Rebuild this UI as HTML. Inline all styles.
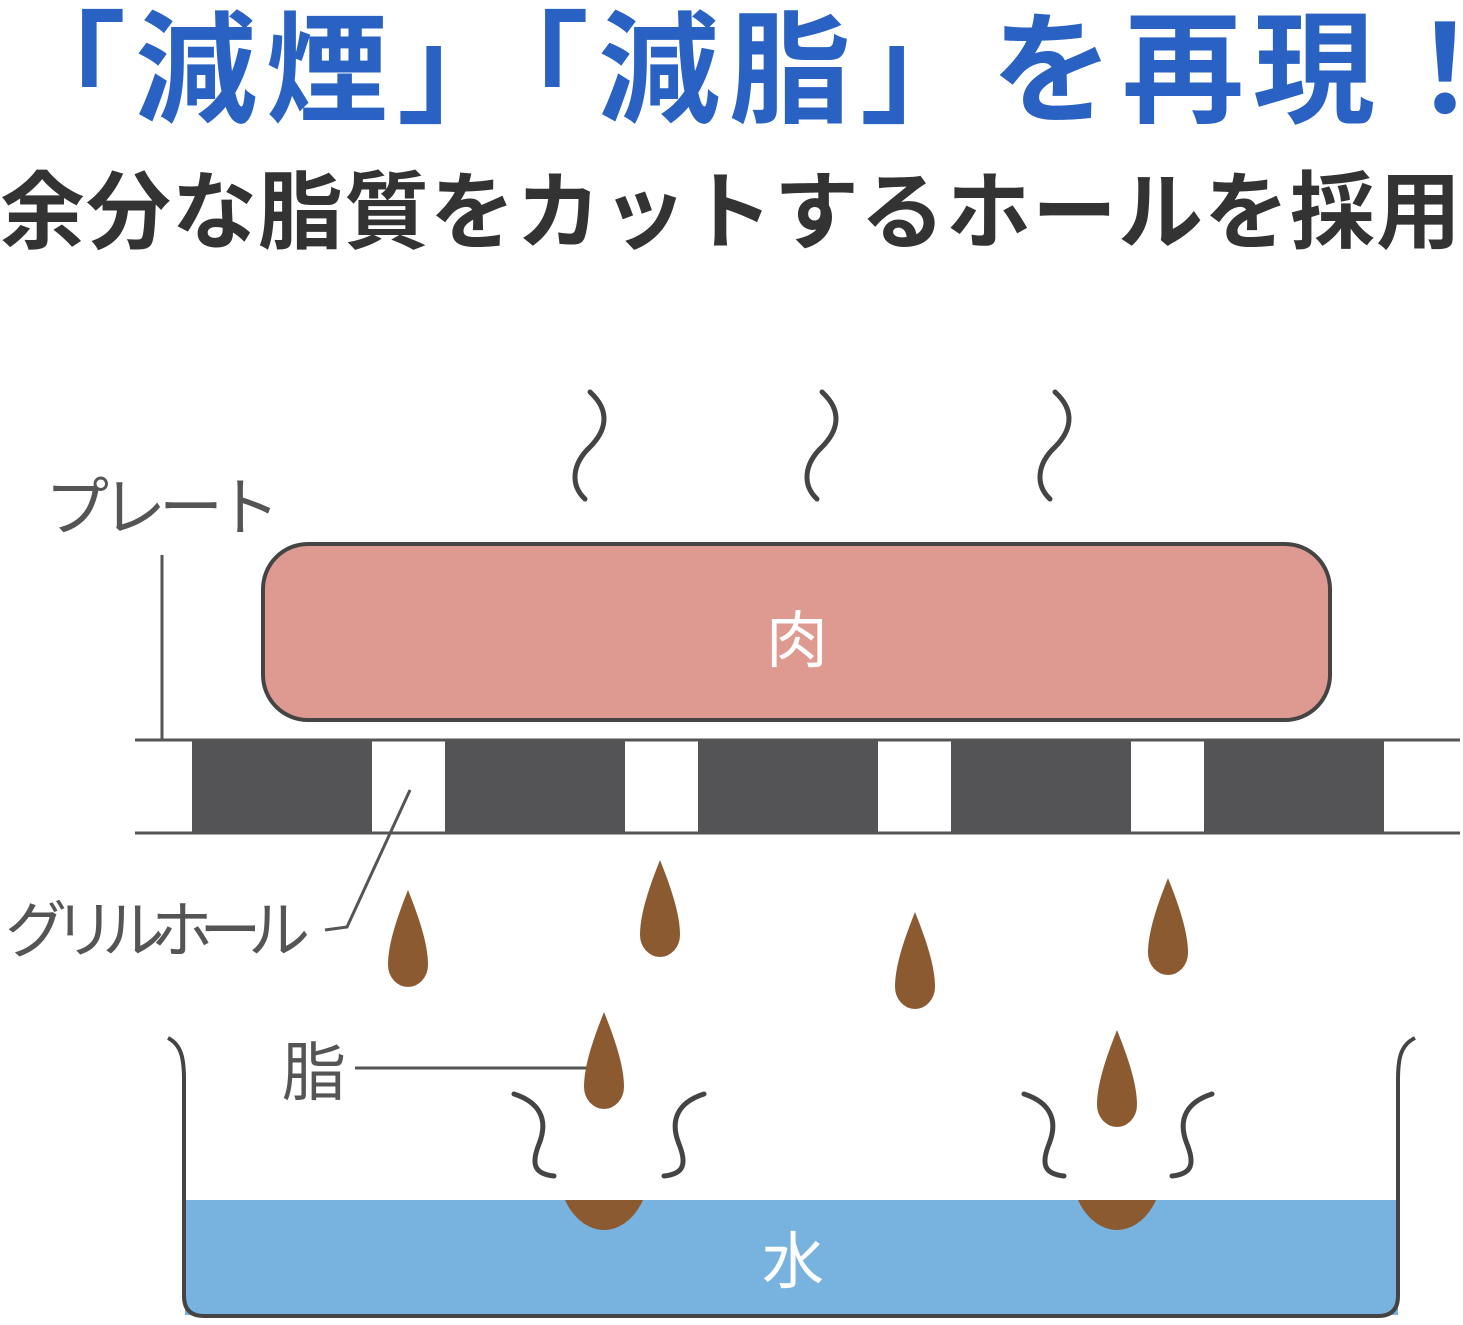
<!DOCTYPE html>
<html><head><meta charset="utf-8"><style>
html,body{margin:0;padding:0;background:#fff;width:1463px;height:1325px;overflow:hidden;position:relative}
.t1{position:absolute;left:4px;top:-28px;font:bold 122px "Liberation Sans","Noto Sans CJK JP",sans-serif;color:#2a62c4;white-space:nowrap;letter-spacing:9px}
.t2{position:absolute;left:0;top:144px;font:bold 85px "Liberation Sans","Noto Sans CJK JP",sans-serif;color:#333;white-space:nowrap;letter-spacing:1px}
svg{position:absolute;left:0;top:0}
</style></head><body>
<div class="t1">「減煙」「減脂」を再現！</div>
<div class="t2">余分な脂質をカットするホールを採用</div>
<svg width="1463" height="1325" viewBox="0 0 1463 1325">
<g fill="none" stroke="#444" stroke-width="5" stroke-linecap="round">
<path d="M590,392 c22,20 15,40 0,55 c-18,17 -20,38 -5,52"/>
<path d="M822,392 c22,20 15,40 0,55 c-18,17 -20,38 -5,52"/>
<path d="M1055,392 c22,20 15,40 0,55 c-18,17 -20,38 -5,52"/>
<path d="M514,1094 c25,8 35,25 25,50 c-8,20 -5,30 15,32"/>
<path d="M704,1094 c-25,8 -35,25 -25,50 c8,20 5,30 -15,32"/>
<path d="M1024,1094 c25,8 35,25 25,50 c-8,20 -5,30 15,32"/>
<path d="M1212,1094 c-25,8 -35,25 -25,50 c8,20 5,30 -15,32"/>
</g>
<rect x="263" y="544" width="1067" height="176" rx="45" fill="#de9a90" stroke="#444" stroke-width="4"/>
<text x="797" y="662" font-family="Liberation Sans,Noto Sans CJK JP,sans-serif" font-size="62" fill="#fff" text-anchor="middle">肉</text>
<g fill="#545456">
<rect x="192" y="740" width="180" height="93"/><rect x="445" y="740" width="180" height="93"/>
<rect x="698" y="740" width="180" height="93"/><rect x="951" y="740" width="180" height="93"/>
<rect x="1204" y="740" width="180" height="93"/>
</g>
<line x1="135" y1="740" x2="1460" y2="740" stroke="#555" stroke-width="3"/>
<line x1="135" y1="833" x2="1460" y2="833" stroke="#555" stroke-width="3"/>
<line x1="162" y1="555" x2="162" y2="740" stroke="#555" stroke-width="3"/>
<text x="45" y="530" font-family="Liberation Sans,Noto Sans CJK JP,sans-serif" font-size="64" fill="#555" textLength="235">プレート</text>
<text x="5" y="952" font-family="Liberation Sans,Noto Sans CJK JP,sans-serif" font-size="62" fill="#555" textLength="305">グリルホール</text>
<polyline points="325,930 347,927 410,790" fill="none" stroke="#555" stroke-width="3"/>
<text x="282" y="1095" font-family="Liberation Sans,Noto Sans CJK JP,sans-serif" font-size="64" fill="#555">脂</text>
<line x1="355" y1="1068" x2="602" y2="1068" stroke="#555" stroke-width="3"/>
<rect x="185" y="1200" width="1213" height="115" fill="#78b3e0"/>
<g fill="#8c5a30">
<path d="M408,890 C420,920 428,945 428,965 A20,22 0 0 1 388,965 C388,945 396,920 408,890Z"/>
<path d="M660,860 C672,890 680,915 680,935 A20,22 0 0 1 640,935 C640,915 648,890 660,860Z"/>
<path d="M915,912 C927,942 935,967 935,987 A20,22 0 0 1 895,987 C895,967 903,942 915,912Z"/>
<path d="M1168,878 C1180,908 1188,933 1188,953 A20,22 0 0 1 1148,953 C1148,933 1156,908 1168,878Z"/>
<path d="M604,1012 C616,1042 624,1067 624,1087 A20,22 0 0 1 584,1087 C584,1067 592,1042 604,1012Z"/>
<path d="M1117,1030 C1129,1060 1137,1085 1137,1105 A20,22 0 0 1 1097,1105 C1097,1085 1105,1060 1117,1030Z"/>
<path d="M565,1200 L643,1200 C635,1218 620,1230 604,1230 C588,1230 573,1218 565,1200Z"/>
<path d="M1078,1200 L1156,1200 C1148,1218 1133,1230 1117,1230 C1101,1230 1086,1218 1078,1200Z"/>
</g>
<path d="M168,1038 C182,1045 184,1060 184,1080 L184,1296 Q184,1316 204,1316 L1378,1316 Q1398,1316 1398,1296 L1398,1080 C1398,1060 1400,1045 1415,1038" fill="none" stroke="#444" stroke-width="4"/>
<text x="793" y="1283" font-family="Liberation Sans,Noto Sans CJK JP,sans-serif" font-size="62" fill="#fff" text-anchor="middle">水</text>
</svg>
</body></html>
